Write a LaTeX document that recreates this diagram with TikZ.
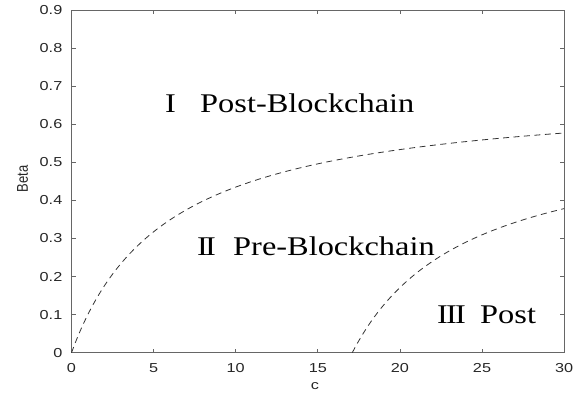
\documentclass[tikz,border=0pt]{standalone}
\usepackage{fontspec}
\setmainfont{Liberation Serif}
\newfontfamily\axfont{Liberation Sans}
\begin{document}
\begin{tikzpicture}[x=16.42pt,y=380.6pt,
  axisline/.style={draw=black!60, line width=0.9pt},
  tickmark/.style={draw=black!60, line width=0.8pt},
  curve/.style={draw=black!80, line width=0.8pt, dash pattern=on 6pt off 4.5pt},
  ticklab/.style={font=\axfont\fontsize{13}{13}\selectfont, text=black!85, inner sep=0pt},
  region/.style={font=\fontsize{27}{27}\selectfont, inner sep=0pt, anchor=base west}]
\useasboundingbox (-71.5pt,-43.3pt) rectangle (509.5pt,352.7pt);
% frame
\draw[axisline] (0,0) rectangle (30,0.9);
\foreach \x in {5,10,15,20,25}{
  \draw[tickmark] (\x,0) -- ++(0,4pt);
  \draw[tickmark] (\x,0.9) -- ++(0,-4pt);
}
\foreach \y in {0.1,0.2,0.3,0.4,0.5,0.6,0.7,0.8}{
  \draw[tickmark] (0,\y) -- ++(4pt,0);
  \draw[tickmark] (30,\y) -- ++(-4pt,0);
}
% tick labels
\foreach \x in {0,5,10,15,20,25,30}{
  \node[ticklab, anchor=north] (xl\x) at ([yshift=-11pt]\x,0) {\scalebox{1.25}[1]{\x}};
}
\foreach \y/\t in {0/0,0.1/0.1,0.2/0.2,0.3/0.3,0.4/0.4,0.5/0.5,0.6/0.6,0.7/0.7,0.8/0.8,0.9/0.9}{
  \node[ticklab, anchor=east] at ([xshift=-9pt]0,\y) {\scalebox{1.25}[1]{\t}};
}
% axis titles
\node[ticklab] (xtitle) at (243.5pt,-33.3pt) {\scalebox{1.25}[1]{c}};
\node[ticklab, rotate=90] (ytitle) at (-49pt,173.7pt) {\scalebox{1}[1.2]{Beta}};
% curves
\draw[curve] plot[domain=0:30, samples=120, smooth] (\x,{0.69*\x/(5.86+\x)});
\draw[curve] plot[domain=17.1:30, samples=80, smooth] (\x,{0.584*(\x-17.1)/(7.0+\x-17.1)});
% region labels
\node[region] (n1) at (93.5pt,240.2pt) {\scalebox{1.2}[1]{I}};
\node[region] (w1) at (128.5pt,240.2pt) {\scalebox{1.2}[1]{Post-Blockchain}};
\node[region] (n2) at (125.5pt,96.7pt) {\scalebox{1.2}[1]{I\kern-2.5pt I}};
\node[region] (w2) at (161.5pt,96.7pt) {\scalebox{1.2}[1]{Pre-Blockchain}};
\node[region] (n3) at (365.5pt,29.4pt) {\scalebox{1.2}[1]{I\kern-1.5pt I\kern-1.5pt I}};
\node[region] (w3) at (408.5pt,29.4pt) {\scalebox{1.2}[1]{Post}};
\end{tikzpicture}
\end{document}
